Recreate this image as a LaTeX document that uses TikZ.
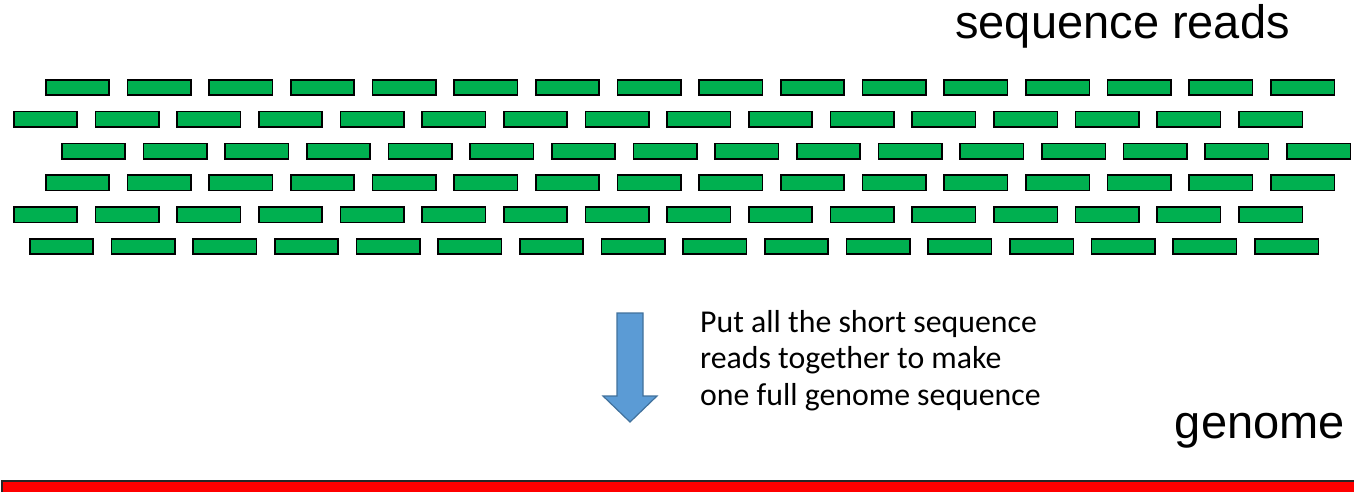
\documentclass[tikz,border=0pt]{standalone}
\usepackage{fontspec}
\setmainfont{Liberation Sans}
\newfontfamily\carlito{Carlito}
\definecolor{readgreen}{HTML}{00B050}
\definecolor{barred}{HTML}{FF0000}
\definecolor{arrowblue}{HTML}{5B9BD5}
\definecolor{arrowedge}{HTML}{41719C}
\tikzset{
  readbox/.style={draw=black, fill=readgreen, line width=1.6pt, minimum width=63.5pt, minimum height=15.5pt, inner sep=0pt, outer sep=0pt},
  biglabel/.style={font=\fontsize{47}{56}\selectfont, inner sep=0pt, anchor=base east},
  notetext/.style={font=\carlito\fontsize{31.8}{36.7}\selectfont, inner sep=0pt, anchor=base west},
}
\begin{document}
\begin{tikzpicture}[x=1pt,y=-1pt]
\useasboundingbox (0,0) rectangle (1354,492);
\clip (0,0) rectangle (1354,492);
% rows of reads
\foreach \r/\sx in {1/45,2/13,3/61,4/45,5/13,6/29}{
  \foreach \c in {0,...,15}{
    \node[readbox] (read-\r-\c) at ({\sx+32.5+81.67*\c},{87.5+31.8*(\r-1)}) {};
  }
}
% labels
\node[biglabel] (seqlabel) at (1290,38.5) {sequence reads};
\node[biglabel] (genlabel) at (1345,438) {genome};
% block arrow
\draw[fill=arrowblue, draw=arrowedge, line width=1.2pt, line join=miter]
  (617,313) -- (643,313) -- (643,396) -- (657,396) -- (630,422) -- (603,396) -- (617,396) -- cycle;
% explanatory text
\node[notetext] (note1) at (700,332) {Put all the short sequence};
\node[notetext] (note2) at (700,368.5) {reads together to make};
\node[notetext] (note3) at (700,405) {one full genome sequence};
% genome bar
\draw[fill=barred, draw=black!85, line width=2pt] (2,480.5) rectangle (1370,510);
\end{tikzpicture}
\end{document}
